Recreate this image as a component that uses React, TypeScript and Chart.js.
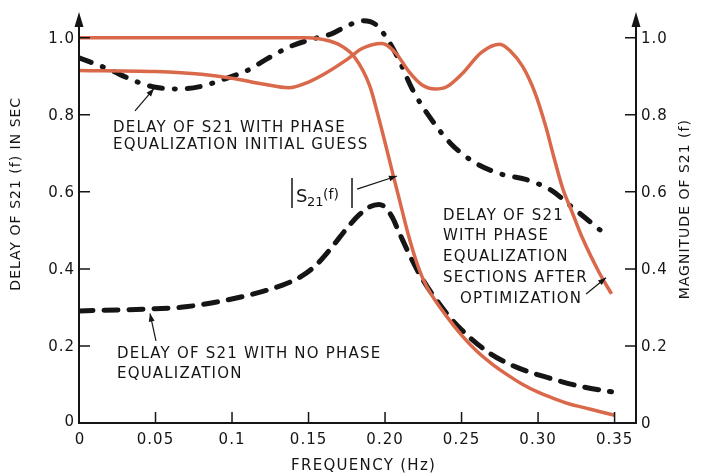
import React, { useEffect, useRef } from "react";
import { Chart, registerables } from "chart.js";

Chart.register(...registerables);

// |S21(f)| magnitude (right axis)
const magFreq = [0, 0.05, 0.1, 0.15, 0.16, 0.17, 0.18, 0.19, 0.195, 0.2, 0.205, 0.21, 0.215, 0.22, 0.225, 0.23, 0.24, 0.25, 0.26, 0.27, 0.28, 0.29, 0.3, 0.31, 0.32, 0.33, 0.34, 0.35];
const magValues = [1.0, 1.0, 1.0, 1.0, 0.995, 0.982, 0.95, 0.875, 0.805, 0.728, 0.648, 0.57, 0.492, 0.425, 0.372, 0.335, 0.278, 0.228, 0.186, 0.153, 0.125, 0.1, 0.08, 0.064, 0.05, 0.04, 0.03, 0.02];

// Delay with phase equalization sections after optimization
const optFreq = [0, 0.05, 0.08, 0.1, 0.12, 0.137, 0.15, 0.16, 0.175, 0.185, 0.198, 0.207, 0.216, 0.224, 0.233, 0.24, 0.25, 0.263, 0.275, 0.282, 0.29, 0.298, 0.305, 0.31, 0.316, 0.322, 0.329, 0.34, 0.348];
const optValues = [0.915, 0.912, 0.905, 0.895, 0.88, 0.87, 0.885, 0.905, 0.943, 0.972, 0.985, 0.96, 0.91, 0.878, 0.867, 0.872, 0.905, 0.962, 0.983, 0.965, 0.925, 0.857, 0.77, 0.695, 0.61, 0.55, 0.48, 0.39, 0.335];

// Delay with phase equalization initial guess
const guessFreq = [0, 0.02, 0.035, 0.048, 0.066, 0.079, 0.096, 0.111, 0.122, 0.138, 0.153, 0.165, 0.175, 0.185, 0.194, 0.203, 0.209, 0.218, 0.229, 0.243, 0.259, 0.276, 0.292, 0.309, 0.322, 0.335, 0.346];
const guessValues = [0.948, 0.917, 0.89, 0.873, 0.867, 0.873, 0.894, 0.917, 0.943, 0.977, 0.997, 1.01, 1.03, 1.044, 1.034, 0.987, 0.943, 0.865, 0.795, 0.725, 0.675, 0.646, 0.632, 0.603, 0.561, 0.519, 0.483];

// Delay with no phase equalization
const noEqFreq = [0, 0.046, 0.068, 0.09, 0.111, 0.133, 0.145, 0.155, 0.165, 0.175, 0.183, 0.19, 0.196, 0.2, 0.205, 0.209, 0.222, 0.237, 0.248, 0.268, 0.287, 0.307, 0.329, 0.348];
const noEqValues = [0.291, 0.296, 0.301, 0.314, 0.332, 0.358, 0.38, 0.41, 0.455, 0.505, 0.54, 0.561, 0.567, 0.56, 0.532, 0.496, 0.39, 0.301, 0.25, 0.182, 0.143, 0.117, 0.094, 0.081];

// Axes
const xTickValues = [0, 0.05, 0.1, 0.15, 0.2, 0.25, 0.3, 0.35];
const xTickLabels = ["0", "0.05", "0.1", "0.15", "0.20", "0.25", "0.30", "0.35"];
const yTickValues = [0, 0.2, 0.4, 0.6, 0.8, 1.0];
const yLeftLabels = ["0", "0.2", "0.4", "0.6", "0.8", "1.0"];
const yRightLabels = ["0", "0.2", "0.4", "0.6", "0.8", "1.0"];

const xTitle = "FREQUENCY (Hz)";
const yLeftTitle = "DELAY OF S21 (f) IN SEC";
const yRightTitle = "MAGNITUDE OF S21 (f)";

const ORANGE = "#d9694a";
const INK = "#151515";
const FONT = "'DejaVu Sans', sans-serif";

const toPts = (xs: number[], ys: number[]) => xs.map((x, i) => ({ x, y: ys[i] }));

function arrow(ctx: CanvasRenderingContext2D, x1: number, y1: number, x2: number, y2: number) {
  ctx.beginPath();
  ctx.moveTo(x1, y1);
  ctx.lineTo(x2, y2);
  ctx.lineWidth = 1.2;
  ctx.strokeStyle = INK;
  ctx.stroke();
  const a = Math.atan2(y2 - y1, x2 - x1);
  const L = 8, W = 3;
  ctx.beginPath();
  ctx.moveTo(x2, y2);
  ctx.lineTo(x2 - L * Math.cos(a) + W * Math.sin(a), y2 - L * Math.sin(a) - W * Math.cos(a));
  ctx.lineTo(x2 - L * Math.cos(a) - W * Math.sin(a), y2 - L * Math.sin(a) + W * Math.cos(a));
  ctx.closePath();
  ctx.fillStyle = INK;
  ctx.fill();
}

const axesPlugin = {
  id: "paperAxes",
  afterDatasetsDraw(chart: any) {
    const { ctx, chartArea, scales } = chart;
    const X = (v: number) => scales.x.getPixelForValue(v);
    const Y = (v: number) => scales.y.getPixelForValue(v);
    const Y1 = (v: number) => scales.y1.getPixelForValue(v);
    const left = chartArea.left, right = chartArea.right, bottom = chartArea.bottom, top = chartArea.top;
    ctx.save();
    ctx.strokeStyle = INK;
    ctx.fillStyle = INK;
    ctx.lineCap = "butt";
    ctx.setLineDash([]);

    // axis lines
    ctx.lineWidth = 2;
    ctx.beginPath();
    ctx.moveTo(left, top + 8);
    ctx.lineTo(left, bottom);
    ctx.lineTo(right, bottom);
    ctx.lineTo(right, top + 8);
    ctx.stroke();
    // arrowheads on y axes
    for (const ax of [left, right]) {
      ctx.beginPath();
      ctx.moveTo(ax, top);
      ctx.lineTo(ax - 4.5, top + 15);
      ctx.lineTo(ax + 4.5, top + 15);
      ctx.closePath();
      ctx.fill();
    }

    // ticks
    ctx.lineWidth = 1.5;
    ctx.beginPath();
    yTickValues.forEach((v) => {
      if (v === 0) return;
      ctx.moveTo(left, Y(v));
      ctx.lineTo(left + 11, Y(v));
      ctx.moveTo(right, Y1(v));
      ctx.lineTo(right - 11, Y1(v));
    });
    xTickValues.forEach((v) => {
      if (v === 0) return;
      ctx.moveTo(X(v), bottom);
      ctx.lineTo(X(v), bottom - 11);
    });
    ctx.stroke();

    // tick labels
    ctx.font = `15px ${FONT}`;
    (ctx as any).letterSpacing = "1px";
    ctx.textBaseline = "middle";
    ctx.textAlign = "right";
    yTickValues.forEach((v, i) => {
      const dy = v === 0 ? -1 : 1;
      ctx.fillText(yLeftLabels[i], left - 4, Y(v) + dy);
    });
    ctx.textAlign = "left";
    yTickValues.forEach((v, i) => {
      ctx.fillText(yRightLabels[i], right + 5, Y1(v) + 1);
    });
    ctx.textAlign = "center";
    ctx.textBaseline = "alphabetic";
    xTickValues.forEach((v, i) => {
      ctx.fillText(xTickLabels[i], X(v) + (v === 0 ? 1 : 0), bottom + 21);
    });

    // axis titles
    ctx.font = `14px ${FONT}`;
    (ctx as any).letterSpacing = "1px";
    ctx.textAlign = "center";
    ctx.save();
    ctx.font = `15px ${FONT}`;
    (ctx as any).letterSpacing = "1.3px";
    ctx.fillText(xTitle, X(0.186), bottom + 47);
    ctx.restore();
    ctx.textBaseline = "middle";
    ctx.save();
    ctx.translate(16, Y(0.595));
    ctx.rotate(-Math.PI / 2);
    ctx.fillText(yLeftTitle, 0, 0);
    ctx.restore();
    ctx.save();
    ctx.translate(685, Y(0.555));
    ctx.rotate(-Math.PI / 2);
    ctx.fillText(yRightTitle, 0, 0);
    ctx.restore();

    // annotations
    ctx.font = `15px ${FONT}`;
    (ctx as any).letterSpacing = "1.2px";
    ctx.textAlign = "left";
    ctx.textBaseline = "alphabetic";
    ctx.fillText("DELAY OF S21 WITH PHASE", X(0.0222), Y(0.755));
    ctx.fillText("EQUALIZATION INITIAL GUESS", X(0.0222), Y(0.71));
    arrow(ctx, X(0.0366), Y(0.81), X(0.049), Y(0.868));

    ctx.fillText("DELAY OF S21 WITH NO PHASE", X(0.0248), Y(0.169));
    ctx.fillText("EQUALIZATION", X(0.0248), Y(0.117));
    arrow(ctx, X(0.0503), Y(0.213), X(0.0464), Y(0.284));

    const ax3 = X(0.2379);
    ctx.fillText("DELAY OF S21", ax3, Y(0.527));
    ctx.fillText("WITH PHASE", ax3, Y(0.474));
    ctx.fillText("EQUALIZATION", ax3, Y(0.421));
    ctx.fillText("SECTIONS AFTER", ax3, Y(0.365));
    ctx.fillText("OPTIMIZATION", X(0.249), Y(0.311));
    arrow(ctx, X(0.3314), Y(0.335), X(0.3444), Y(0.377));

    // |S21(f)|
    const bx = X(0.1392), by = Y(0.558);
    ctx.lineWidth = 1.5;
    ctx.beginPath();
    ctx.moveTo(bx, by - 30);
    ctx.lineTo(bx, by);
    ctx.stroke();
    (ctx as any).letterSpacing = "0px";
    ctx.font = `18px ${FONT}`;
    ctx.fillText("S", bx + 4, by - 6);
    ctx.font = `13px ${FONT}`;
    ctx.fillText("21", bx + 15, by - 2);
    ctx.font = `14px ${FONT}`;
    ctx.fillText("(f)", bx + 31, by - 9);
    ctx.beginPath();
    ctx.moveTo(bx + 60, by - 30);
    ctx.lineTo(bx + 60, by);
    ctx.stroke();
    arrow(ctx, X(0.1817), Y(0.607), X(0.2078), Y(0.641));

    ctx.restore();
  },
};

export default function App() {
  const ref = useRef<HTMLCanvasElement | null>(null);
  useEffect(() => {
    document.body.style.margin = "0";
    document.body.style.background = "#ffffff";
    if (!ref.current) return;
    const chart = new Chart(ref.current, {
      type: "line",
      data: {
        datasets: [
          {
            label: "|S21(f)|",
            data: toPts(magFreq, magValues),
            yAxisID: "y1",
            borderColor: ORANGE,
            borderWidth: 3.5,
            pointRadius: 0,
            cubicInterpolationMode: "monotone",
            fill: false,
          },
          {
            label: "Delay after optimization",
            data: toPts(optFreq, optValues),
            yAxisID: "y",
            borderColor: ORANGE,
            borderWidth: 3.5,
            pointRadius: 0,
            cubicInterpolationMode: "monotone",
            fill: false,
          },
          {
            label: "Delay initial guess",
            data: toPts(guessFreq, guessValues),
            yAxisID: "y",
            borderColor: INK,
            borderWidth: 5,
            borderDash: [13, 12, 1, 12],
            borderCapStyle: "round",
            pointRadius: 0,
            cubicInterpolationMode: "monotone",
            fill: false,
          },
          {
            label: "Delay no equalization",
            data: toPts(noEqFreq, noEqValues),
            yAxisID: "y",
            borderColor: INK,
            borderWidth: 5,
            borderDash: [14, 11],
            borderCapStyle: "round",
            pointRadius: 0,
            cubicInterpolationMode: "monotone",
            fill: false,
          },
        ],
      },
      options: {
        animation: false,
        responsive: false,
        devicePixelRatio: 1,
        layout: { padding: { left: 79, right: 68, top: 12, bottom: 50 } },
        plugins: { legend: { display: false }, tooltip: { enabled: false } },
        scales: {
          x: { type: "linear", min: 0, max: 0.364, display: false },
          y: { type: "linear", min: 0, max: 1.0667, display: false },
          y1: { type: "linear", min: 0, max: 1.0667, display: false, position: "right" },
        },
      },
      plugins: [axesPlugin],
    } as any);
    return () => chart.destroy();
  }, []);
  return (
    <div style={{ position: "absolute", left: 0, top: 0, width: 704, height: 473, background: "#fff" }}>
      <canvas ref={ref} width={704} height={473} style={{ display: "block", width: 704, height: 473 }} />
    </div>
  );
}
